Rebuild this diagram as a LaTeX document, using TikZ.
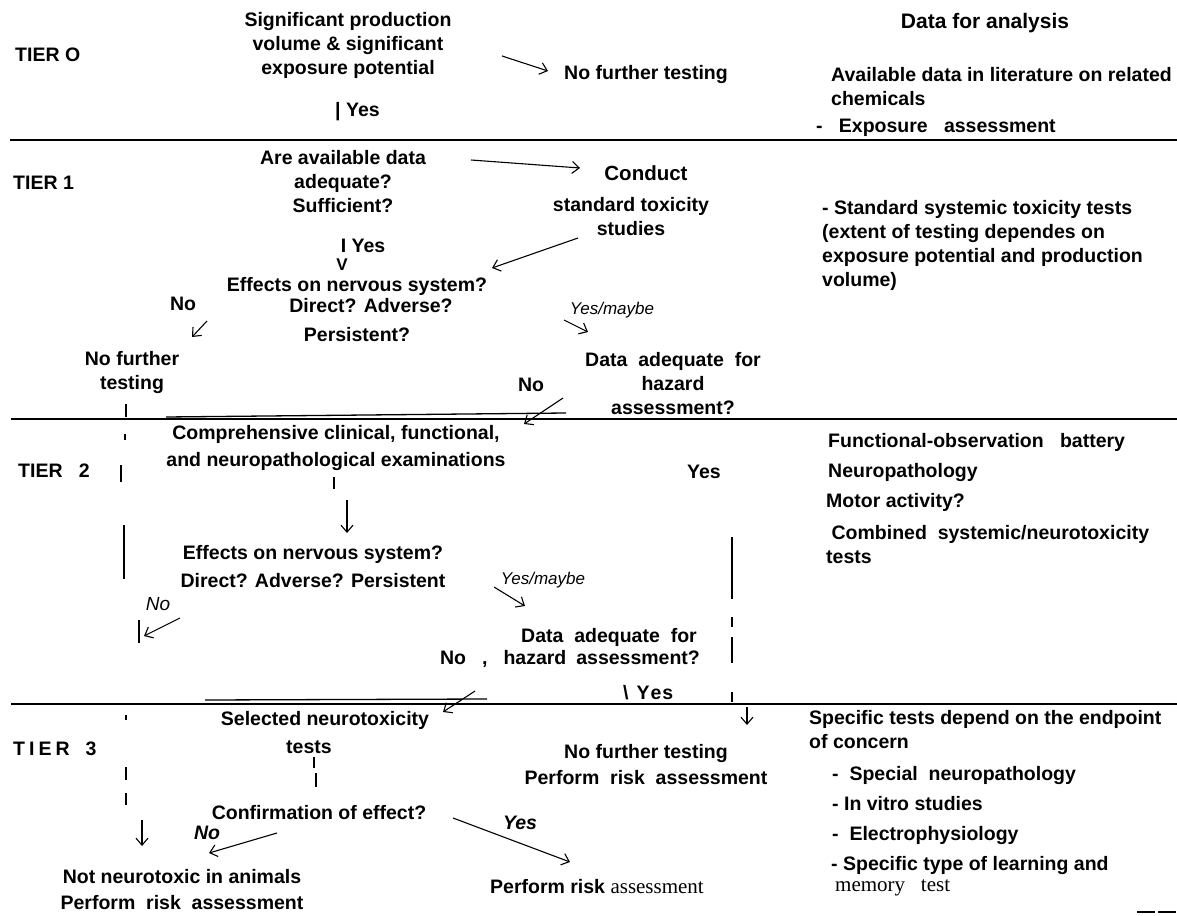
\documentclass[tikz,border=0pt]{standalone}
\usepackage{fontspec}
\setmainfont{Liberation Sans}
\newfontfamily\timesfont{Liberation Serif}
\usetikzlibrary{arrows.meta, positioning}

\begin{document}
\begin{tikzpicture}[x=1pt, y=-1pt]

    % Define styles
    \tikzstyle{flowtxt} = [inner sep=0pt, align=center, font=\bfseries\fontsize{19.5}{24}\selectfont]
    \tikzstyle{notetxt} = [flowtxt, align=left, anchor=west]
    \tikzstyle{tiertxt} = [flowtxt, anchor=west]
    \tikzstyle{maybetxt} = [inner sep=0pt, font=\itshape\fontsize{17}{20}\selectfont]
    \tikzstyle{answerit} = [inner sep=0pt, font=\bfseries\itshape\fontsize{19.5}{24}\selectfont]
    \tikzstyle{flowarrow} = [line width=1.1pt, -{Straight Barb[length=7pt, width=12pt]}]
    \tikzstyle{tierline} = [line width=2.6pt]
    \tikzstyle{scanline} = [line width=1.3pt]
    \tikzstyle{bar} = [line width=2.2pt]
    \tikzstyle{thinbar} = [line width=1.1pt]

    \useasboundingbox (0,0) rectangle (1177,915);

    % Tier lines
    \draw[tierline] (10,140) -- (1177,140);
    \draw[tierline] (11,419) -- (1177,419);
    \draw[tierline] (11,704) -- (1177,704);

    % Tier 0
    \node[tiertxt] (tier0) at (15,55) {TIER O};
    \node[flowtxt] (volume) at (348,45) {Significant production\\volume \& significant\\exposure potential};
    \node[tiertxt] (stop0) at (564,75) {No further testing};
    \node[tiertxt] (yes0) at (335,112) {| Yes};
    \node[flowtxt, font=\bfseries\fontsize{21}{25}\selectfont] (datahead) at (985,23) {Data for analysis};
    \node[notetxt] (literature) at (831,87) {Available data in literature on related\\chemicals};
    \node[notetxt] (exposure) at (816,128) {-~~~Exposure~~~assessment};

    % Tier 1
    \node[tiertxt] (tier1) at (13,183) {TIER 1};
    \node[flowtxt] (adequate) at (343,182) {Are available data\\adequate?\\Sufficient?};
    \node[flowtxt, font=\bfseries\fontsize{20.5}{24}\selectfont] (conduct) at (646,173) {Conduct};
    \node[flowtxt] (standard) at (631,217) {standard toxicity\\studies};
    \node[flowtxt] (yes1) at (363,246) {I Yes};
    \node[flowtxt, font=\bfseries\fontsize{17}{20}\selectfont] (vee1) at (342,265) {V};
    \node[flowtxt] (effects1) at (357,286) {Effects on nervous system?};
    \node[flowtxt] (direct1) at (371,306) {Direct? Adverse?};
    \node[flowtxt] (persist1) at (357,335) {Persistent?};
    \node[flowtxt] (no1) at (183,304) {No};
    \node[maybetxt] (maybe1) at (612,310) {Yes/maybe};
    \node[flowtxt] (stop1) at (132,372) {No further\\testing};
    \node[flowtxt] (hazard1) at (673,384) {Data~ adequate~ for\\hazard\\assessment?};
    \node[flowtxt] (no1b) at (531,385) {No};
    \node[notetxt] (standardtests) at (822,245) {- Standard systemic toxicity tests\\(extent of testing dependes on\\exposure potential and production\\volume)};

    % Tier 2
    \node[tiertxt] (tier2) at (18,471) {TIER~~~2};
    \node[flowtxt] (comprehensive) at (336,448) {Comprehensive clinical, functional,\\[3pt]and neuropathological examinations};
    \node[flowtxt] (effects2) at (313,567) {Effects on nervous system?\\[4pt]Direct? Adverse? Persistent};
    \node[maybetxt] (maybe2) at (543,580) {Yes/maybe};
    \node[maybetxt, font=\itshape\fontsize{19}{22}\selectfont] (no2) at (158,604) {No};
    \node[flowtxt] (hazard2a) at (609,637) {Data~ adequate~ for};
    \node[flowtxt] (hazard2b) at (570,659) {No\hspace{16pt},\hspace{16pt}hazard\hspace{10pt}assessment?};
    \node[tiertxt] (yes2) at (623,693) {\textbackslash\hspace{8pt}Y\kern1pt e\kern1pt s};
    \node[flowtxt] (yes2r) at (704,472) {Yes};
    \node[notetxt] (fob) at (828,442) {Functional-observation~~ battery};
    \node[notetxt] (neuropath) at (828,472) {Neuropathology};
    \node[notetxt] (motor) at (826,502) {Motor activity?};
    \node[notetxt] (combined) at (826,545) {~Combined~ systemic/neurotoxicity\\tests};

    % Tier 3
    \node[tiertxt] (tier3) at (13,749) {T\hspace{4pt}I\hspace{4pt}E\hspace{4pt}R\hspace{16pt}3};
    \node[flowtxt] (selected) at (325,720) {Selected neurotoxicity};
    \node[flowtxt] (seltests) at (309,747) {tests};
    \node[flowtxt] (confirm) at (319,813) {Confirmation of effect?};
    \node[answerit] (no3) at (207,833) {No};
    \node[answerit] (yes3) at (520,823) {Yes};
    \node[flowtxt] (notneuro) at (182,890) {Not neurotoxic in animals\\[2pt]Perform~ risk~ assessment};
    \node[flowtxt] (stop3) at (646,765) {No further testing\\[2pt]Perform~ risk~ assessment};
    \node[tiertxt] (risk3) at (490,887) {Perform risk {\timesfont\mdseries\fontsize{21}{24}\selectfont assessment}};
    \node[notetxt] (specific) at (809,730) {Specific tests depend on the endpoint\\of concern};
    \node[notetxt] (special) at (832,775) {-~~Special~~neuropathology};
    \node[notetxt] (invitro) at (832,804) {- In vitro studies};
    \node[notetxt] (electro) at (832,835) {-~~Electrophysiology};
    \node[notetxt] (learning) at (831,876) {- Specific type of learning and\\[-3pt]\hspace*{4pt}{\timesfont\mdseries\fontsize{21}{24}\selectfont memory~~~test}};

    % Define key points
    \coordinate (prod-out) at (502,56);
    \coordinate (stop0-in) at (548,71);
    \coordinate (adeq-out) at (471,160);
    \coordinate (conduct-in) at (580,168);
    \coordinate (studies-out) at (578,238);
    \coordinate (effects-in) at (492,268);
    \coordinate (no1-out) at (207,321);
    \coordinate (stop1-in) at (192,337);
    \coordinate (maybe1-out) at (564,320);
    \coordinate (hazard1-in) at (588,332);
    \coordinate (no1b-out) at (563,398);
    \coordinate (tier2-in) at (524,424);
    \coordinate (exam-out) at (347,500);
    \coordinate (effects2-in) at (347,533);
    \coordinate (maybe2-out) at (494,587);
    \coordinate (hazard2-in) at (525,606);
    \coordinate (no2-out) at (180,618);
    \coordinate (no2-in) at (144,636);
    \coordinate (no2b-out) at (475,691);
    \coordinate (tier3-in) at (443,712);
    \coordinate (yes2-out) at (747,707);
    \coordinate (stop3-in) at (747,725);
    \coordinate (left-out) at (142,820);
    \coordinate (notneuro-in) at (142,846);
    \coordinate (no3-out) at (277,833);
    \coordinate (no3-in) at (209,853);
    \coordinate (yes3-out) at (453,818);
    \coordinate (risk3-in) at (570,862);

    % Draw arrows
    \draw[flowarrow] (prod-out) -- (stop0-in);
    \draw[flowarrow] (adeq-out) -- (conduct-in);
    \draw[flowarrow] (studies-out) -- (effects-in);
    \draw[flowarrow] (no1-out) -- (stop1-in);
    \draw[flowarrow] (maybe1-out) -- (hazard1-in);
    \draw[flowarrow] (no1b-out) -- (tier2-in);
    \draw[flowarrow] (exam-out) -- (effects2-in);
    \draw[flowarrow] (maybe2-out) -- (hazard2-in);
    \draw[flowarrow] (no2-out) -- (no2-in);
    \draw[flowarrow] (no2b-out) -- (tier3-in);
    \draw[flowarrow] (yes2-out) -- (stop3-in);
    \draw[flowarrow] (left-out) -- (notneuro-in);
    \draw[flowarrow] (no3-out) -- (no3-in);
    \draw[flowarrow] (yes3-out) -- (risk3-in);

    % Draw bars and scan lines
    \draw[scanline] (166,417) -- (566,413);
    \draw[scanline] (205,700) -- (487,699);
    \draw[bar] (126,404) -- (126,417);
    \draw[thinbar] (125,434) -- (125,440);
    \draw[bar] (121,465) -- (121,482);
    \draw[bar] (334,477) -- (334,489);
    \draw[bar] (124,525) -- (124,579);
    \draw[thinbar] (139,620) -- (139,643);
    \draw[bar] (732,537) -- (732,599);
    \draw[thinbar] (732,617) -- (732,627);
    \draw[thinbar] (732,637) -- (732,663);
    \draw[thinbar] (732,692) -- (732,702);
    \draw[thinbar] (126,715) -- (126,720);
    \draw[bar] (126,767) -- (126,780);
    \draw[bar] (126,793) -- (126,805);
    \draw[bar] (314,757) -- (314,768);
    \draw[bar] (316,773) -- (316,787);
    \draw[scanline] (1137,912) -- (1155,912);
    \draw[scanline] (1158,912) -- (1176,912);

\end{tikzpicture}
\end{document}
